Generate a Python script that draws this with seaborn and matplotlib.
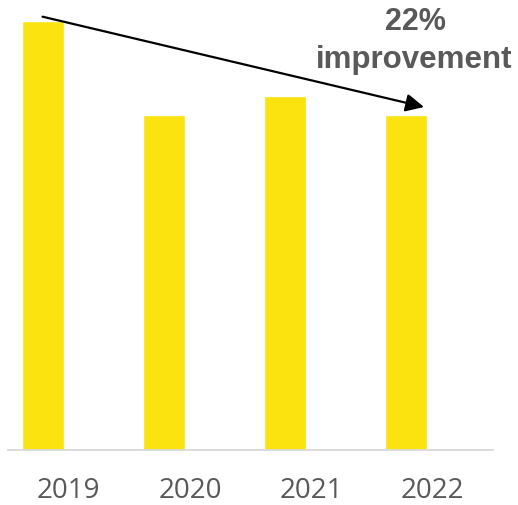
import numpy as np
import pandas as pd
import matplotlib
matplotlib.use("Agg")
import matplotlib.pyplot as plt
import seaborn as sns

# Yearly values (indexed to 2019 = 100) and an empty companion series
years = ["2019", "2020", "2021", "2022"]
actual = [100.0, 78.1, 82.6, 78.1]
companion = [np.nan, np.nan, np.nan, np.nan]
series_names = ["Actual", "Companion"]

callout_pct = "22%"
callout_word = "improvement"

df = pd.DataFrame({
    "year": years * 2,
    "value": actual + companion,
    "series": [series_names[0]] * 4 + [series_names[1]] * 4,
})

sns.set_theme(style="white")
plt.rcParams["font.family"] = ["Open Sans", "DejaVu Sans"]

fig = plt.figure(figsize=(5.18, 5.05), dpi=100)
ax = fig.add_axes([8 / 518, 55.5 / 505, 485 / 518, 449.5 / 505])

yellow = "#FAE30E"
sns.barplot(
    data=df, x="year", y="value", hue="series", hue_order=series_names,
    order=years, palette=[yellow, yellow], width=0.86, gap=0.193,
    dodge=True, legend=False, ax=ax, saturation=1, errorbar=None,
)

ymax = 105.0
ax.set_ylim(0, ymax)
ax.set_xlim(-0.5, 3.5)

for s in ["top", "right", "left"]:
    ax.spines[s].set_visible(False)
ax.spines["bottom"].set_color("#D9D9D9")
ax.spines["bottom"].set_linewidth(1.3)
ax.set_yticks([])
ax.set_xlabel("")
ax.set_ylabel("")
ax.tick_params(axis="x", length=0, pad=20, labelsize=20, labelcolor="#595959")

# Trend arrow from the first year's bar to the last one
bar_offset = -0.215
ax.annotate(
    "", xy=(3 + bar_offset + 0.146, 80.0), xytext=(bar_offset, 101.1),
    xycoords="data", textcoords="data", annotation_clip=False,
    arrowprops=dict(arrowstyle="-|>,head_length=0.55,head_width=0.27",
                    mutation_scale=20, lw=1.6, color="black",
                    shrinkA=0, shrinkB=0),
)

fig.text(415 / 518, 1 - 29.5 / 505, callout_pct, ha="center", va="baseline",
         fontsize=22, fontweight="bold", color="#595959",
         family=["Liberation Sans", "DejaVu Sans"])
fig.text(414 / 518, 1 - 68 / 505, callout_word, ha="center", va="baseline",
         fontsize=22.5, fontweight="bold", color="#595959",
         family=["Liberation Sans", "DejaVu Sans"])

fig.savefig("out.png", dpi=100)
